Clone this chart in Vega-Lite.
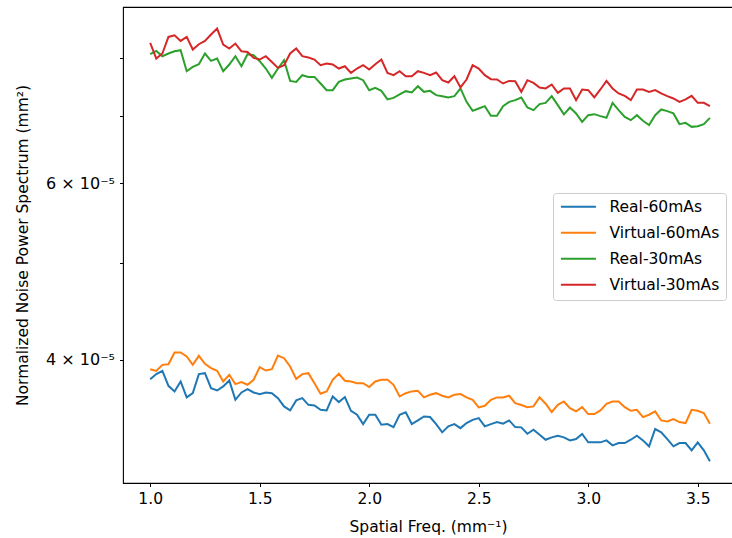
{
  "$schema": "https://vega.github.io/schema/vega-lite/v6.json",
  "width": 610,
  "height": 476,
  "autosize": {"type": "none"},
  "padding": {"left": 123, "top": 7, "right": 0, "bottom": 55},
  "background": "white",
  "config": {"view": {"stroke": "#000", "strokeWidth": 1.1}, "font": "DejaVu Sans"},
  "data": {"values": [
    {"x": 1.0, "Real-60mAs": 3.826e-5, "Virtual-60mAs": 3.915e-5, "Real-30mAs": 8.073e-5, "Virtual-30mAs": 8.285e-5},
    {"x": 1.0278, "Real-60mAs": 3.871e-5, "Virtual-60mAs": 3.900e-5, "Real-30mAs": 8.134e-5, "Virtual-30mAs": 7.993e-5},
    {"x": 1.0556, "Real-60mAs": 3.900e-5, "Virtual-60mAs": 3.954e-5, "Real-30mAs": 8.036e-5, "Virtual-30mAs": 8.086e-5},
    {"x": 1.0833, "Real-60mAs": 3.768e-5, "Virtual-60mAs": 3.960e-5, "Real-30mAs": 8.086e-5, "Virtual-30mAs": 8.400e-5},
    {"x": 1.1111, "Real-60mAs": 3.720e-5, "Virtual-60mAs": 4.068e-5, "Real-30mAs": 8.128e-5, "Virtual-30mAs": 8.432e-5},
    {"x": 1.1389, "Real-60mAs": 3.806e-5, "Virtual-60mAs": 4.068e-5, "Real-30mAs": 8.147e-5, "Virtual-30mAs": 8.323e-5},
    {"x": 1.1667, "Real-60mAs": 3.669e-5, "Virtual-60mAs": 4.031e-5, "Real-30mAs": 7.764e-5, "Virtual-30mAs": 8.400e-5},
    {"x": 1.1944, "Real-60mAs": 3.705e-5, "Virtual-60mAs": 3.954e-5, "Real-30mAs": 7.841e-5, "Virtual-30mAs": 8.160e-5},
    {"x": 1.2222, "Real-60mAs": 3.871e-5, "Virtual-60mAs": 4.037e-5, "Real-30mAs": 7.890e-5, "Virtual-30mAs": 8.260e-5},
    {"x": 1.25, "Real-60mAs": 3.879e-5, "Virtual-60mAs": 3.963e-5, "Real-30mAs": 8.086e-5, "Virtual-30mAs": 8.323e-5},
    {"x": 1.2778, "Real-60mAs": 3.748e-5, "Virtual-60mAs": 3.924e-5, "Real-30mAs": 7.950e-5, "Virtual-30mAs": 8.446e-5},
    {"x": 1.3056, "Real-60mAs": 3.728e-5, "Virtual-60mAs": 3.900e-5, "Real-30mAs": 7.993e-5, "Virtual-30mAs": 8.563e-5},
    {"x": 1.3333, "Real-60mAs": 3.763e-5, "Virtual-60mAs": 3.806e-5, "Real-30mAs": 7.764e-5, "Virtual-30mAs": 8.254e-5},
    {"x": 1.3611, "Real-60mAs": 3.815e-5, "Virtual-60mAs": 3.865e-5, "Real-30mAs": 7.884e-5, "Virtual-30mAs": 8.179e-5},
    {"x": 1.3889, "Real-60mAs": 3.649e-5, "Virtual-60mAs": 3.783e-5, "Real-30mAs": 8.036e-5, "Virtual-30mAs": 8.273e-5},
    {"x": 1.4167, "Real-60mAs": 3.711e-5, "Virtual-60mAs": 3.800e-5, "Real-30mAs": 7.853e-5, "Virtual-30mAs": 8.128e-5},
    {"x": 1.4444, "Real-60mAs": 3.740e-5, "Virtual-60mAs": 3.777e-5, "Real-30mAs": 8.073e-5, "Virtual-30mAs": 8.115e-5},
    {"x": 1.4722, "Real-60mAs": 3.711e-5, "Virtual-60mAs": 3.821e-5, "Real-30mAs": 8.054e-5, "Virtual-30mAs": 8.004e-5},
    {"x": 1.5, "Real-60mAs": 3.697e-5, "Virtual-60mAs": 3.933e-5, "Real-30mAs": 7.944e-5, "Virtual-30mAs": 7.975e-5},
    {"x": 1.5278, "Real-60mAs": 3.711e-5, "Virtual-60mAs": 3.903e-5, "Real-30mAs": 7.812e-5, "Virtual-30mAs": 8.036e-5},
    {"x": 1.5556, "Real-60mAs": 3.705e-5, "Virtual-60mAs": 3.915e-5, "Real-30mAs": 7.645e-5, "Virtual-30mAs": 7.931e-5},
    {"x": 1.5833, "Real-60mAs": 3.663e-5, "Virtual-60mAs": 4.040e-5, "Real-30mAs": 7.812e-5, "Virtual-30mAs": 7.823e-5},
    {"x": 1.6111, "Real-60mAs": 3.594e-5, "Virtual-60mAs": 4.015e-5, "Real-30mAs": 7.962e-5, "Virtual-30mAs": 7.871e-5},
    {"x": 1.6389, "Real-60mAs": 3.561e-5, "Virtual-60mAs": 3.939e-5, "Real-30mAs": 7.593e-5, "Virtual-30mAs": 8.086e-5},
    {"x": 1.6667, "Real-60mAs": 3.644e-5, "Virtual-60mAs": 3.829e-5, "Real-30mAs": 7.576e-5, "Virtual-30mAs": 8.179e-5},
    {"x": 1.6944, "Real-60mAs": 3.663e-5, "Virtual-60mAs": 3.871e-5, "Real-30mAs": 7.693e-5, "Virtual-30mAs": 8.036e-5},
    {"x": 1.7222, "Real-60mAs": 3.607e-5, "Virtual-60mAs": 3.879e-5, "Real-30mAs": 7.663e-5, "Virtual-30mAs": 8.012e-5},
    {"x": 1.75, "Real-60mAs": 3.602e-5, "Virtual-60mAs": 3.791e-5, "Real-30mAs": 7.663e-5, "Virtual-30mAs": 7.975e-5},
    {"x": 1.7778, "Real-60mAs": 3.566e-5, "Virtual-60mAs": 3.700e-5, "Real-30mAs": 7.548e-5, "Virtual-30mAs": 7.871e-5},
    {"x": 1.8056, "Real-60mAs": 3.561e-5, "Virtual-60mAs": 3.720e-5, "Real-30mAs": 7.433e-5, "Virtual-30mAs": 7.902e-5},
    {"x": 1.8333, "Real-60mAs": 3.677e-5, "Virtual-60mAs": 3.821e-5, "Real-30mAs": 7.433e-5, "Virtual-30mAs": 7.884e-5},
    {"x": 1.8611, "Real-60mAs": 3.630e-5, "Virtual-60mAs": 3.874e-5, "Real-30mAs": 7.576e-5, "Virtual-30mAs": 7.812e-5},
    {"x": 1.8889, "Real-60mAs": 3.672e-5, "Virtual-60mAs": 3.812e-5, "Real-30mAs": 7.617e-5, "Virtual-30mAs": 7.853e-5},
    {"x": 1.9167, "Real-60mAs": 3.558e-5, "Virtual-60mAs": 3.806e-5, "Real-30mAs": 7.635e-5, "Virtual-30mAs": 7.734e-5},
    {"x": 1.9444, "Real-60mAs": 3.526e-5, "Virtual-60mAs": 3.791e-5, "Real-30mAs": 7.652e-5, "Virtual-30mAs": 7.812e-5},
    {"x": 1.9722, "Real-60mAs": 3.451e-5, "Virtual-60mAs": 3.791e-5, "Real-30mAs": 7.605e-5, "Virtual-30mAs": 7.871e-5},
    {"x": 2.0, "Real-60mAs": 3.526e-5, "Virtual-60mAs": 3.757e-5, "Real-30mAs": 7.433e-5, "Virtual-30mAs": 7.794e-5},
    {"x": 2.0278, "Real-60mAs": 3.526e-5, "Virtual-60mAs": 3.806e-5, "Real-30mAs": 7.472e-5, "Virtual-30mAs": 7.890e-5},
    {"x": 2.0556, "Real-60mAs": 3.446e-5, "Virtual-60mAs": 3.821e-5, "Real-30mAs": 7.421e-5, "Virtual-30mAs": 7.975e-5},
    {"x": 2.0833, "Real-60mAs": 3.451e-5, "Virtual-60mAs": 3.821e-5, "Real-30mAs": 7.276e-5, "Virtual-30mAs": 7.734e-5},
    {"x": 2.1111, "Real-60mAs": 3.427e-5, "Virtual-60mAs": 3.777e-5, "Real-30mAs": 7.302e-5, "Virtual-30mAs": 7.693e-5},
    {"x": 2.1389, "Real-60mAs": 3.526e-5, "Virtual-60mAs": 3.677e-5, "Real-30mAs": 7.360e-5, "Virtual-30mAs": 7.764e-5},
    {"x": 2.1667, "Real-60mAs": 3.545e-5, "Virtual-60mAs": 3.705e-5, "Real-30mAs": 7.416e-5, "Virtual-30mAs": 7.675e-5},
    {"x": 2.1944, "Real-60mAs": 3.451e-5, "Virtual-60mAs": 3.720e-5, "Real-30mAs": 7.394e-5, "Virtual-30mAs": 7.675e-5},
    {"x": 2.2222, "Real-60mAs": 3.480e-5, "Virtual-60mAs": 3.725e-5, "Real-30mAs": 7.501e-5, "Virtual-30mAs": 7.764e-5},
    {"x": 2.25, "Real-60mAs": 3.512e-5, "Virtual-60mAs": 3.669e-5, "Real-30mAs": 7.404e-5, "Virtual-30mAs": 7.734e-5},
    {"x": 2.2778, "Real-60mAs": 3.507e-5, "Virtual-60mAs": 3.691e-5, "Real-30mAs": 7.421e-5, "Virtual-30mAs": 7.693e-5},
    {"x": 2.3056, "Real-60mAs": 3.451e-5, "Virtual-60mAs": 3.705e-5, "Real-30mAs": 7.348e-5, "Virtual-30mAs": 7.741e-5},
    {"x": 2.3333, "Real-60mAs": 3.386e-5, "Virtual-60mAs": 3.683e-5, "Real-30mAs": 7.331e-5, "Virtual-30mAs": 7.605e-5},
    {"x": 2.3611, "Real-60mAs": 3.433e-5, "Virtual-60mAs": 3.669e-5, "Real-30mAs": 7.309e-5, "Virtual-30mAs": 7.565e-5},
    {"x": 2.3889, "Real-60mAs": 3.451e-5, "Virtual-60mAs": 3.691e-5, "Real-30mAs": 7.331e-5, "Virtual-30mAs": 7.675e-5},
    {"x": 2.4167, "Real-60mAs": 3.419e-5, "Virtual-60mAs": 3.697e-5, "Real-30mAs": 7.462e-5, "Virtual-30mAs": 7.479e-5},
    {"x": 2.4444, "Real-60mAs": 3.459e-5, "Virtual-60mAs": 3.669e-5, "Real-30mAs": 7.236e-5, "Virtual-30mAs": 7.617e-5},
    {"x": 2.4722, "Real-60mAs": 3.485e-5, "Virtual-60mAs": 3.649e-5, "Real-30mAs": 7.088e-5, "Virtual-30mAs": 7.871e-5},
    {"x": 2.5, "Real-60mAs": 3.499e-5, "Virtual-60mAs": 3.586e-5, "Real-30mAs": 7.127e-5, "Virtual-30mAs": 7.812e-5},
    {"x": 2.5278, "Real-60mAs": 3.433e-5, "Virtual-60mAs": 3.599e-5, "Real-30mAs": 7.165e-5, "Virtual-30mAs": 7.693e-5},
    {"x": 2.5556, "Real-60mAs": 3.451e-5, "Virtual-60mAs": 3.649e-5, "Real-30mAs": 7.007e-5, "Virtual-30mAs": 7.623e-5},
    {"x": 2.5833, "Real-60mAs": 3.467e-5, "Virtual-60mAs": 3.669e-5, "Real-30mAs": 7.007e-5, "Virtual-30mAs": 7.617e-5},
    {"x": 2.6111, "Real-60mAs": 3.454e-5, "Virtual-60mAs": 3.669e-5, "Real-30mAs": 7.165e-5, "Virtual-30mAs": 7.548e-5},
    {"x": 2.6389, "Real-60mAs": 3.480e-5, "Virtual-60mAs": 3.683e-5, "Real-30mAs": 7.236e-5, "Virtual-30mAs": 7.593e-5},
    {"x": 2.6667, "Real-60mAs": 3.427e-5, "Virtual-60mAs": 3.621e-5, "Real-30mAs": 7.264e-5, "Virtual-30mAs": 7.588e-5},
    {"x": 2.6944, "Real-60mAs": 3.425e-5, "Virtual-60mAs": 3.605e-5, "Real-30mAs": 7.309e-5, "Virtual-30mAs": 7.404e-5},
    {"x": 2.7222, "Real-60mAs": 3.375e-5, "Virtual-60mAs": 3.588e-5, "Real-30mAs": 7.143e-5, "Virtual-30mAs": 7.605e-5},
    {"x": 2.75, "Real-60mAs": 3.406e-5, "Virtual-60mAs": 3.594e-5, "Real-30mAs": 7.099e-5, "Virtual-30mAs": 7.558e-5},
    {"x": 2.7778, "Real-60mAs": 3.368e-5, "Virtual-60mAs": 3.669e-5, "Real-30mAs": 7.198e-5, "Virtual-30mAs": 7.479e-5},
    {"x": 2.8056, "Real-60mAs": 3.329e-5, "Virtual-60mAs": 3.616e-5, "Real-30mAs": 7.219e-5, "Virtual-30mAs": 7.462e-5},
    {"x": 2.8333, "Real-60mAs": 3.347e-5, "Virtual-60mAs": 3.547e-5, "Real-30mAs": 7.331e-5, "Virtual-30mAs": 7.530e-5},
    {"x": 2.8611, "Real-60mAs": 3.360e-5, "Virtual-60mAs": 3.607e-5, "Real-30mAs": 7.181e-5, "Virtual-30mAs": 7.387e-5},
    {"x": 2.8889, "Real-60mAs": 3.347e-5, "Virtual-60mAs": 3.635e-5, "Real-30mAs": 7.030e-5, "Virtual-30mAs": 7.462e-5},
    {"x": 2.9167, "Real-60mAs": 3.324e-5, "Virtual-60mAs": 3.580e-5, "Real-30mAs": 7.143e-5, "Virtual-30mAs": 7.462e-5},
    {"x": 2.9444, "Real-60mAs": 3.334e-5, "Virtual-60mAs": 3.553e-5, "Real-30mAs": 7.046e-5, "Virtual-30mAs": 7.264e-5},
    {"x": 2.9722, "Real-60mAs": 3.373e-5, "Virtual-60mAs": 3.588e-5, "Real-30mAs": 6.911e-5, "Virtual-30mAs": 7.445e-5},
    {"x": 3.0, "Real-60mAs": 3.309e-5, "Virtual-60mAs": 3.531e-5, "Real-30mAs": 7.018e-5, "Virtual-30mAs": 7.433e-5},
    {"x": 3.0278, "Real-60mAs": 3.309e-5, "Virtual-60mAs": 3.531e-5, "Real-30mAs": 7.034e-5, "Virtual-30mAs": 7.309e-5},
    {"x": 3.0556, "Real-60mAs": 3.309e-5, "Virtual-60mAs": 3.561e-5, "Real-30mAs": 7.002e-5, "Virtual-30mAs": 7.445e-5},
    {"x": 3.0833, "Real-60mAs": 3.324e-5, "Virtual-60mAs": 3.616e-5, "Real-30mAs": 6.975e-5, "Virtual-30mAs": 7.593e-5},
    {"x": 3.1111, "Real-60mAs": 3.286e-5, "Virtual-60mAs": 3.635e-5, "Real-30mAs": 7.219e-5, "Virtual-30mAs": 7.462e-5},
    {"x": 3.1389, "Real-60mAs": 3.304e-5, "Virtual-60mAs": 3.635e-5, "Real-30mAs": 7.099e-5, "Virtual-30mAs": 7.377e-5},
    {"x": 3.1667, "Real-60mAs": 3.304e-5, "Virtual-60mAs": 3.588e-5, "Real-30mAs": 6.991e-5, "Virtual-30mAs": 7.336e-5},
    {"x": 3.1944, "Real-60mAs": 3.329e-5, "Virtual-60mAs": 3.558e-5, "Real-30mAs": 6.938e-5, "Virtual-30mAs": 7.264e-5},
    {"x": 3.2222, "Real-60mAs": 3.360e-5, "Virtual-60mAs": 3.566e-5, "Real-30mAs": 7.018e-5, "Virtual-30mAs": 7.445e-5},
    {"x": 3.25, "Real-60mAs": 3.324e-5, "Virtual-60mAs": 3.507e-5, "Real-30mAs": 6.927e-5, "Virtual-30mAs": 7.445e-5},
    {"x": 3.2778, "Real-60mAs": 3.279e-5, "Virtual-60mAs": 3.526e-5, "Real-30mAs": 6.859e-5, "Virtual-30mAs": 7.404e-5},
    {"x": 3.3056, "Real-60mAs": 3.412e-5, "Virtual-60mAs": 3.553e-5, "Real-30mAs": 7.018e-5, "Virtual-30mAs": 7.433e-5},
    {"x": 3.3333, "Real-60mAs": 3.386e-5, "Virtual-60mAs": 3.480e-5, "Real-30mAs": 7.111e-5, "Virtual-30mAs": 7.377e-5},
    {"x": 3.3611, "Real-60mAs": 3.334e-5, "Virtual-60mAs": 3.472e-5, "Real-30mAs": 7.083e-5, "Virtual-30mAs": 7.331e-5},
    {"x": 3.3889, "Real-60mAs": 3.279e-5, "Virtual-60mAs": 3.491e-5, "Real-30mAs": 7.046e-5, "Virtual-30mAs": 7.292e-5},
    {"x": 3.4167, "Real-60mAs": 3.304e-5, "Virtual-60mAs": 3.467e-5, "Real-30mAs": 6.875e-5, "Virtual-30mAs": 7.236e-5},
    {"x": 3.4444, "Real-60mAs": 3.304e-5, "Virtual-60mAs": 3.459e-5, "Real-30mAs": 6.895e-5, "Virtual-30mAs": 7.276e-5},
    {"x": 3.4722, "Real-60mAs": 3.249e-5, "Virtual-60mAs": 3.566e-5, "Real-30mAs": 6.832e-5, "Virtual-30mAs": 7.336e-5},
    {"x": 3.5, "Real-60mAs": 3.309e-5, "Virtual-60mAs": 3.558e-5, "Real-30mAs": 6.843e-5, "Virtual-30mAs": 7.219e-5},
    {"x": 3.5278, "Real-60mAs": 3.249e-5, "Virtual-60mAs": 3.539e-5, "Real-30mAs": 6.875e-5, "Virtual-30mAs": 7.219e-5},
    {"x": 3.5556, "Real-60mAs": 3.168e-5, "Virtual-60mAs": 3.454e-5, "Real-30mAs": 6.975e-5, "Virtual-30mAs": 7.165e-5}
  ]},
  "transform": [{"fold": ["Real-60mAs", "Virtual-60mAs", "Real-30mAs", "Virtual-30mAs"], "as": ["series", "nps"]}],
  "mark": {"type": "line", "strokeWidth": 2, "clip": true},
  "encoding": {
    "x": {
      "field": "x", "type": "quantitative",
      "scale": {"domain": [0.8758, 3.661], "nice": false, "zero": false},
      "axis": {
        "values": [1, 1.5, 2, 2.5, 3, 3.5], "format": ".1f",
        "title": "Spatial Freq. (mm⁻¹)",
        "grid": false, "domain": false,
        "tickSize": 3.5, "tickColor": "#000", "tickWidth": 1,
        "labelFont": "DejaVu Sans", "labelFontSize": 15.5, "labelColor": "#000", "labelPadding": 5,
        "titleFont": "DejaVu Sans", "titleFontSize": 15.5, "titleFontWeight": "normal", "titleColor": "#000", "titlePadding": 12
      }
    },
    "y": {
      "field": "nps", "type": "quantitative",
      "scale": {"type": "log", "domain": [3.014e-5, 8.998e-5], "nice": false},
      "axis": {
        "values": [4e-5, 5e-5, 6e-5, 7e-5, 8e-5],
        "labelExpr": "round(datum.value*1e5) == 4 ? '4 × 10⁻⁵' : (round(datum.value*1e5) == 6 ? '6 × 10⁻⁵' : '')",
        "title": "Normalized Noise Power Spectrum (mm²)",
        "grid": false, "domain": false,
        "tickSize": 3.5, "tickColor": "#000", "tickWidth": 1,
        "labelFont": "DejaVu Sans", "labelFontSize": 16, "labelColor": "#000", "labelPadding": 5,
        "titleFont": "DejaVu Sans", "titleFontSize": 15.5, "titleFontWeight": "normal", "titleColor": "#000", "titlePadding": 15
      }
    },
    "color": {
      "field": "series", "type": "nominal",
      "scale": {"domain": ["Real-60mAs", "Virtual-60mAs", "Real-30mAs", "Virtual-30mAs"], "range": ["#1f77b4", "#ff7f0e", "#2ca02c", "#d62728"]},
      "legend": {
        "orient": "none", "legendX": 430, "legendY": 186, "title": null,
        "symbolType": "M-1,0H5", "symbolSize": 136, "symbolStrokeWidth": 2,
        "labelFont": "DejaVu Sans", "labelFontSize": 15.5, "labelColor": "#000", "labelOffset": 35,
        "rowPadding": 9, "padding": 6,
        "strokeColor": "#cccccc", "fillColor": "rgba(255,255,255,0.8)", "cornerRadius": 3
      }
    }
  }
}
